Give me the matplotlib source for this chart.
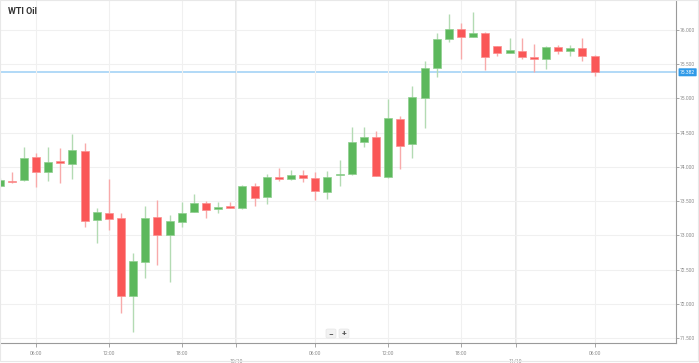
import numpy as np
import matplotlib
matplotlib.use("Agg")
import matplotlib.pyplot as plt
from matplotlib.patches import Rectangle, FancyBboxPatch

# hourly candles, WTI Oil
opens = [73.725, 73.794, 73.808, 74.140, 73.921, 74.090, 74.038, 74.236, 73.224, 73.331,
         73.258, 72.113, 72.615, 73.263, 73.005, 73.199, 73.336, 73.477, 73.380, 73.428,
         73.404, 73.725, 73.556, 73.848, 73.823, 73.881, 73.842, 73.637, 73.877, 73.896,
         74.368, 74.441, 73.857, 74.700, 74.330, 75.011, 75.445, 75.873, 76.010, 75.898,
         75.952, 75.766, 75.660, 75.698, 75.601, 75.576, 75.756, 75.698, 75.741, 75.620]
highs = [73.838, 73.925, 74.295, 74.198, 74.295, 74.272, 74.476, 74.345, 73.395, 73.819,
         73.331, 72.746, 73.428, 73.516, 73.297, 73.491, 73.604, 73.501, 73.491, 73.483,
         73.735, 73.760, 73.896, 73.988, 73.954, 73.954, 73.930, 73.940, 74.101, 74.587,
         74.587, 74.529, 74.992, 74.743, 75.182, 75.547, 75.961, 76.234, 76.098, 76.267,
         75.975, 75.766, 75.887, 75.887, 75.795, 75.766, 75.781, 75.781, 75.887, 75.635]
lows = [73.706, 73.765, 73.800, 73.710, 73.794, 73.760, 73.823, 73.117, 72.892, 73.078,
        71.861, 71.592, 72.372, 72.566, 72.322, 73.117, 73.336, 73.249, 73.331, 73.395,
        73.390, 73.428, 73.453, 73.794, 73.808, 73.784, 73.516, 73.531, 73.721, 73.881,
        74.295, 73.867, 73.833, 73.969, 74.125, 74.573, 75.309, 75.820, 75.572, 75.898,
        75.416, 75.624, 75.660, 75.576, 75.391, 75.430, 75.649, 75.624, 75.547, 75.328]
closes = [73.808, 73.775, 74.134, 73.921, 74.076, 74.052, 74.242, 73.214, 73.336, 73.243,
          72.118, 72.625, 73.258, 73.005, 73.209, 73.331, 73.472, 73.370, 73.414, 73.404,
          73.721, 73.550, 73.848, 73.819, 73.881, 73.842, 73.648, 73.857, 73.896, 74.368,
          74.441, 73.867, 74.710, 74.305, 75.025, 75.445, 75.873, 76.019, 75.902, 75.952,
          75.601, 75.668, 75.708, 75.601, 75.572, 75.747, 75.698, 75.733, 75.620, 75.382]
last_price = 75.382

tick_pos = [3, 9, 15, 19.5, 26, 32, 38, 42.5, 49]
tick_labels = ["06:00", "12:00", "18:00", "\n10/10", "06:00", "12:00", "18:00", "\n11/10", "06:00"]
price_ticks = [71.5, 72.0, 72.5, 73.0, 73.5, 74.0, 74.5, 75.0, 75.5, 76.0]

UP, DOWN = "#5cb85c", "#fa5757"
UP_W, DOWN_W = "#b3dbb3", "#f8aaaa"

plt.rcParams["font.family"] = ["Roboto", "DejaVu Sans"]

fig = plt.figure(figsize=(6.99, 3.63), dpi=100)
ax = fig.add_axes([0, 20 / 363, 676 / 699, 343 / 363])

x = np.arange(len(opens))
o, h, l, c = map(np.array, (opens, highs, lows, closes))
up = c >= o
ax.vlines(x, l, h, colors=np.where(up, UP_W, DOWN_W), linewidth=1, zorder=2)
bottoms = np.minimum(o, c)
heights = np.maximum(np.abs(c - o), 0.025)
ax.bar(x, heights, bottom=bottoms, width=0.66, color=np.where(up, UP, DOWN),
       edgecolor=np.where(up, "#8fcf8f", "#fb9090"), linewidth=0.5, zorder=3)

ax.axhline(last_price, color="#9dd0f5", linewidth=1.1, zorder=1)

ax.set_xlim(0.04, 55.7)
ax.set_ylim(71.427, 76.438)

ax.set_yticks(price_ticks)
ax.set_yticklabels([f"{p:.3f}" for p in price_ticks])
ax.yaxis.tick_right()
ax.set_xticks(tick_pos)
ax.set_xticklabels(tick_labels, linespacing=1.6)
ax.tick_params(axis="y", length=2, width=0.6, color="#999999", labelsize=3.6,
               labelcolor="#8a8a8a", pad=1)
ax.tick_params(axis="x", length=3, width=0.6, color="#999999", labelsize=3.6,
               labelcolor="#8a8a8a", pad=3)

ax.grid(True, color="#f0f0f0", linewidth=0.8, zorder=0)
for d in (19.5, 42.5):
    ax.axvline(d, color="#e4e4e4", linewidth=1.2, zorder=0)

for s in ("left", "top"):
    ax.spines[s].set_visible(False)
ax.spines["right"].set_color("#9a9a9a")
ax.spines["bottom"].set_color("#9a9a9a")
ax.spines["right"].set_linewidth(0.8)
ax.spines["bottom"].set_linewidth(0.8)

# current price tag
ax.text(1.006, last_price, "75.382", transform=ax.get_yaxis_transform(),
        ha="left", va="center", fontsize=3.6, color="white", clip_on=False,
        bbox=dict(boxstyle="round,pad=0.3,rounding_size=0.15", fc="#2f9ae8", ec="none"))

fig.text(8 / 699, 1 - 12 / 363, "WTI Oil", fontsize=6.5, fontweight="bold",
         color="#333333", va="center", ha="left")

# zoom buttons
for bx, sym in ((331, "\u2212"), (344, "+")):
    fig.patches.append(FancyBboxPatch(((bx - 5) / 699, 1 - 338 / 363), 10 / 699, 9 / 363,
                                      boxstyle="round,pad=0,rounding_size=0.003",
                                      transform=fig.transFigure, fc="#f2f2f2", ec="#e6e6e6",
                                      linewidth=0.5))
    fig.text(bx / 699, 1 - 333.5 / 363, sym, fontsize=6, color="#555555",
             ha="center", va="center", fontweight="bold")

fig.patches.append(Rectangle((0, 2 / 363), 697.5 / 699, 1 - 2 / 363, transform=fig.transFigure,
                             fill=False, ec="#e8e8e8", linewidth=0.8))

fig.savefig("out.png", dpi=100)
